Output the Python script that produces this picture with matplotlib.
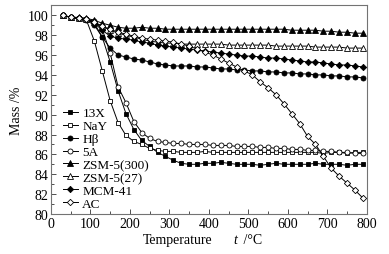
import matplotlib
matplotlib.use("Agg")
import matplotlib.pyplot as plt
from matplotlib.ticker import MultipleLocator

plt.rcParams['font.family'] = ['Liberation Serif', 'DejaVu Serif']

temperature = [30, 50, 70, 90, 110, 130, 150, 170, 190, 210, 230, 250, 270, 290,
               310, 330, 350, 370, 390, 410, 430, 450, 470, 490, 510, 530, 550,
               570, 590, 610, 630, 650, 670, 690, 710, 730, 750, 770, 790]

mass_13x = [100.0, 99.8, 99.7, 99.6, 99.2, 97.8, 95.3, 92.4, 90.1, 88.5, 87.4, 86.8, 86.2,
            85.8, 85.4, 85.1, 85.0, 85.0, 85.1, 85.1, 85.2, 85.1, 85.0, 85.0, 85.0, 84.9,
            85.0, 85.1, 85.0, 85.0, 85.0, 85.0, 85.1, 85.0, 85.0, 85.0, 84.9, 85.0, 85.0]
mass_nay = [100.0, 99.8, 99.7, 99.5, 97.4, 94.4, 91.4, 89.2, 87.9, 87.3, 87.0, 86.6, 86.4,
            86.3, 86.3, 86.2, 86.2, 86.2, 86.3, 86.2, 86.2, 86.2, 86.2, 86.2, 86.2, 86.2,
            86.2, 86.2, 86.2, 86.2, 86.2, 86.2, 86.2, 86.1, 86.2, 86.2, 86.1, 86.2, 86.2]
mass_hbeta = [100.0, 99.8, 99.7, 99.5, 99.0, 97.8, 96.7, 96.0, 95.8, 95.6, 95.5, 95.3, 95.1,
              95.0, 94.9, 94.9, 94.9, 94.8, 94.8, 94.7, 94.6, 94.6, 94.5, 94.5, 94.4, 94.4,
              94.3, 94.3, 94.2, 94.2, 94.1, 94.1, 94.0, 94.0, 93.9, 93.9, 93.8, 93.8, 93.7]
mass_5a = [100.0, 99.8, 99.7, 99.6, 99.4, 98.6, 96.2, 92.8, 91.2, 89.3, 88.2, 87.6, 87.3,
           87.2, 87.1, 87.1, 87.0, 87.0, 87.0, 86.9, 86.9, 86.9, 86.8, 86.8, 86.8, 86.7,
           86.7, 86.6, 86.6, 86.5, 86.5, 86.4, 86.4, 86.3, 86.3, 86.2, 86.2, 86.1, 86.1]
mass_zsm300 = [100.0, 99.8, 99.8, 99.7, 99.5, 99.2, 99.0, 98.8, 98.7, 98.7, 98.8, 98.7, 98.7,
               98.6, 98.6, 98.6, 98.6, 98.6, 98.6, 98.6, 98.6, 98.6, 98.6, 98.6, 98.6, 98.6,
               98.6, 98.6, 98.6, 98.5, 98.5, 98.5, 98.5, 98.4, 98.4, 98.3, 98.3, 98.2, 98.2]
mass_zsm27 = [100.0, 99.8, 99.7, 99.6, 99.3, 98.9, 98.5, 98.2, 98.0, 97.8, 97.6, 97.4, 97.3,
              97.2, 97.2, 97.1, 97.1, 97.1, 97.1, 97.1, 97.1, 97.0, 97.0, 97.0, 97.0, 97.0,
              97.0, 96.9, 96.9, 96.9, 96.9, 96.9, 96.8, 96.8, 96.8, 96.8, 96.7, 96.7, 96.7]
mass_mcm41 = [100.0, 99.8, 99.7, 99.6, 99.2, 98.5, 97.9, 97.7, 97.6, 97.5, 97.3, 97.2, 97.0,
              96.9, 96.8, 96.7, 96.6, 96.5, 96.4, 96.3, 96.2, 96.1, 96.0, 95.9, 95.9, 95.8,
              95.7, 95.7, 95.6, 95.5, 95.4, 95.3, 95.3, 95.2, 95.1, 95.0, 95.0, 94.9, 94.8]
mass_ac = [100.0, 99.8, 99.7, 99.6, 99.3, 98.9, 98.6, 98.3, 98.1, 97.9, 97.7, 97.6, 97.5,
           97.4, 97.3, 97.1, 96.9, 96.6, 96.3, 96.0, 95.6, 95.2, 94.8, 94.4, 94.0, 93.3,
           92.7, 92.0, 91.1, 90.1, 89.1, 87.8, 87.0, 85.8, 84.6, 83.8, 83.1, 82.4, 81.6]

labels = ['13X', 'NaY', 'H\u03b2', '5A', 'ZSM-5(300)', 'ZSM-5(27)', 'MCM-41', 'AC']
series = [mass_13x, mass_nay, mass_hbeta, mass_5a, mass_zsm300, mass_zsm27, mass_mcm41, mass_ac]
markers = ['s', 's', 'o', 'o', '^', '^', 'D', 'D']
filled = [True, False, True, False, True, False, True, False]
msizes = [3.4, 3.4, 3.6, 3.6, 3.8, 3.8, 3.2, 3.2]

fig = plt.figure(figsize=(3.89, 2.55), dpi=100)
ax = fig.add_axes([0.131, 0.157, 0.812, 0.818])

for y, lab, m, f, ms in zip(series, labels, markers, filled, msizes):
    ax.plot(temperature, y, color='black', lw=0.7, marker=m, ms=ms,
            mfc='black' if f else 'white', mec='black', mew=0.6, label=lab)

ax.set_xlim(0, 800)
ax.set_ylim(80, 101)
ax.xaxis.set_major_locator(MultipleLocator(100))
ax.xaxis.set_minor_locator(MultipleLocator(50))
ax.yaxis.set_major_locator(MultipleLocator(2))
ax.yaxis.set_minor_locator(MultipleLocator(1))
ax.tick_params(which='both', direction='in', top=False, right=False,
               labelsize=10, pad=2, width=0.6, color='0.2')
ax.tick_params(which='major', length=3.5)
ax.tick_params(which='minor', length=2.5)
for s in ax.spines.values():
    s.set_color('0.45')
    s.set_linewidth(0.8)

ax.set_ylabel('Mass /%', fontsize=10, labelpad=3)
fig.text(143 / 389, 1 - 241 / 255, 'Temperature', fontsize=10, ha='left', va='center')
fig.text(233 / 389, 1 - 241 / 255, 't', fontsize=10, style='italic', ha='left', va='center')
fig.text(240 / 389, 1 - 241 / 255, ' /\u00b0C', fontsize=10, ha='left', va='center')

leg = ax.legend(loc='lower left', bbox_to_anchor=(0.02, -0.005), frameon=False,
                fontsize=9.5, labelspacing=0.05, handlelength=1.2, handletextpad=0.3,
                borderaxespad=0.0)

fig.savefig('out.png', dpi=100)
